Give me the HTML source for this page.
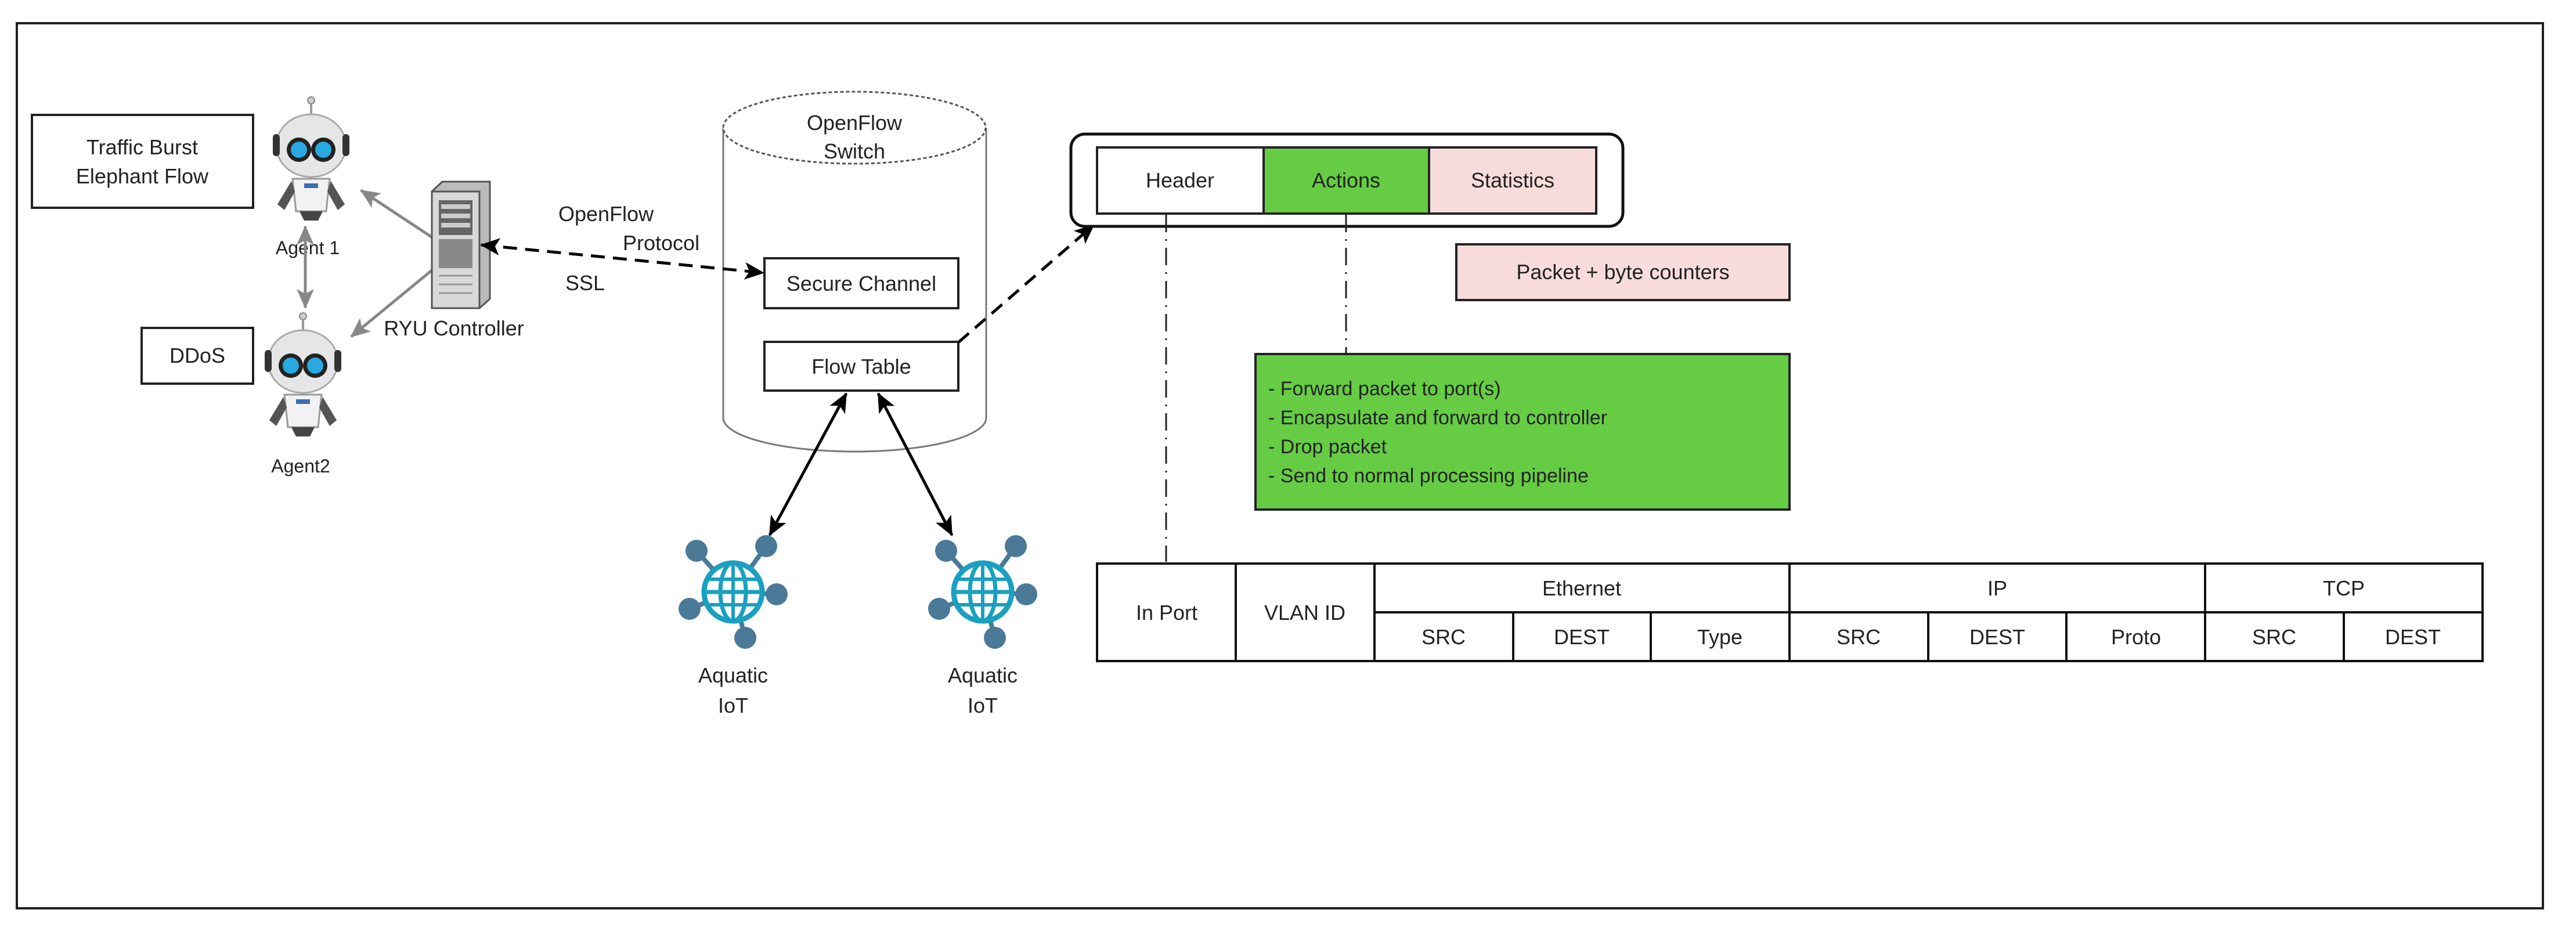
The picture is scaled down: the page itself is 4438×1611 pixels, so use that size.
<!DOCTYPE html>
<html><head><meta charset="utf-8"><style>
html,body{margin:0;padding:0;background:#fff;}
svg{display:block;}
text{font-family:"Liberation Sans",sans-serif;fill:#222;}
</style></head><body>
<svg width="4438" height="1611" viewBox="0 0 4438 1611" xmlns="http://www.w3.org/2000/svg">
<defs>
<marker id="abk" markerWidth="34" markerHeight="30" refX="32" refY="15" orient="auto-start-reverse" markerUnits="userSpaceOnUse"><path d="M0,0 L34,15 L0,30 L8,15 z" fill="#000"/></marker>
<marker id="ag" markerWidth="34" markerHeight="30" refX="32" refY="15" orient="auto-start-reverse" markerUnits="userSpaceOnUse"><path d="M0,0 L34,15 L0,30 L8,15 z" fill="#888"/></marker>
<g id="globe">
<g stroke="#4a7a98" stroke-width="8">
<line x1="0" y1="0" x2="-63" y2="-71"/><line x1="0" y1="0" x2="57" y2="-79"/><line x1="0" y1="0" x2="-75" y2="29"/><line x1="0" y1="0" x2="75" y2="4"/><line x1="0" y1="0" x2="21" y2="79"/>
</g>
<g fill="#4a7a98"><circle cx="-63" cy="-71" r="19"/><circle cx="57" cy="-79" r="19"/><circle cx="-75" cy="29" r="19"/><circle cx="75" cy="4" r="19"/><circle cx="21" cy="79" r="19"/></g>
<circle r="50" fill="#fff" stroke="#1aa0c0" stroke-width="9"/>
<ellipse rx="22" ry="50" fill="none" stroke="#1aa0c0" stroke-width="7"/>
<line x1="-50" y1="0" x2="50" y2="0" stroke="#1aa0c0" stroke-width="7"/>
<line x1="-44" y1="-22" x2="44" y2="-22" stroke="#1aa0c0" stroke-width="6"/>
<line x1="-44" y1="22" x2="44" y2="22" stroke="#1aa0c0" stroke-width="6"/>
<line x1="0" y1="-50" x2="0" y2="50" stroke="#1aa0c0" stroke-width="6"/>
</g>
<g id="robot">
<line x1="0" y1="-100" x2="0" y2="-72" stroke="#999" stroke-width="4"/><circle cy="-103" r="6" fill="#ccc" stroke="#888" stroke-width="2"/>
<ellipse cx="0" cy="-25" rx="60" ry="54" fill="#e6e6e6" stroke="#aaa" stroke-width="3"/>
<rect x="-66" y="-45" width="12" height="38" rx="6" fill="#333"/><rect x="54" y="-45" width="12" height="38" rx="6" fill="#333"/>
<circle cx="-21" cy="-18" r="21" fill="#222"/><circle cx="21" cy="-18" r="21" fill="#222"/>
<circle cx="-21" cy="-18" r="14" fill="#2aa8e0"/><circle cx="21" cy="-18" r="14" fill="#2aa8e0"/>
<path d="M-32,32 L32,32 L26,88 L-26,88 z" fill="#f2f2f2" stroke="#999" stroke-width="3"/>
<rect x="-12" y="40" width="24" height="8" fill="#3a6fb0"/>
<path d="M-34,36 L-58,76 L-46,86 L-28,54 z" fill="#555"/><path d="M34,36 L58,76 L46,86 L28,54 z" fill="#555"/>
<path d="M-20,88 L-12,104 L12,104 L20,88 z" fill="#444"/>
</g>
</defs>

<rect x="29" y="40" width="4352" height="1525" fill="none" stroke="#222" stroke-width="4"/>

<rect x="55" y="198" width="381" height="160" fill="#fff" stroke="#222" stroke-width="4"/>
<text x="245" y="266" font-size="36" text-anchor="middle">Traffic Burst</text>
<text x="245" y="316" font-size="36" text-anchor="middle">Elephant Flow</text>
<rect x="244" y="565" width="192" height="96" fill="#fff" stroke="#222" stroke-width="4"/>
<text x="340" y="625" font-size="36" text-anchor="middle">DDoS</text>

<use href="#robot" x="536" y="276"/>
<use href="#robot" x="522" y="648"/>
<text x="530" y="438" font-size="32" text-anchor="middle">Agent 1</text>
<text x="518" y="814" font-size="32" text-anchor="middle">Agent2</text>

<line x1="746" y1="410" x2="622" y2="328" stroke="#888" stroke-width="5" marker-end="url(#ag)"/>
<line x1="746" y1="464" x2="605" y2="580" stroke="#888" stroke-width="5" marker-end="url(#ag)"/>
<line x1="526" y1="390" x2="526" y2="530" stroke="#888" stroke-width="5" marker-start="url(#ag)" marker-end="url(#ag)"/>

<g>
<path d="M744,330 L762,313 L844,313 L844,515 L826,531 L744,531 z" fill="#bbb" stroke="#555" stroke-width="3"/>
<rect x="744" y="330" width="82" height="201" fill="#d8d8d8" stroke="#555" stroke-width="3"/>
<rect x="756" y="345" width="58" height="60" fill="#666"/>
<rect x="760" y="352" width="50" height="8" fill="#ccc"/><rect x="760" y="368" width="50" height="8" fill="#ccc"/><rect x="760" y="384" width="50" height="8" fill="#ccc"/>
<rect x="756" y="412" width="58" height="50" fill="#888"/>
<line x1="756" y1="475" x2="814" y2="475" stroke="#999" stroke-width="3"/><line x1="756" y1="490" x2="814" y2="490" stroke="#999" stroke-width="3"/><line x1="756" y1="505" x2="814" y2="505" stroke="#999" stroke-width="3"/>
</g>
<text x="782" y="578" font-size="36" text-anchor="middle">RYU Controller</text>

<text x="962" y="381" font-size="36">OpenFlow</text>
<text x="1073" y="431" font-size="36">Protocol</text>
<text x="974" y="500" font-size="36">SSL</text>

<path d="M1246,220 L1246,720 A226,58 0 0 0 1699,720 L1699,220" fill="#fff" stroke="#777" stroke-width="3"/>
<ellipse cx="1472" cy="220" rx="226" ry="62" fill="#fff" stroke="#555" stroke-width="3" stroke-dasharray="6,4"/>
<text x="1472" y="224" font-size="36" text-anchor="middle">OpenFlow</text>
<text x="1472" y="273" font-size="36" text-anchor="middle">Switch</text>
<rect x="1317" y="445" width="334" height="86" fill="#fff" stroke="#222" stroke-width="4"/>
<text x="1484" y="501" font-size="36" text-anchor="middle">Secure Channel</text>
<rect x="1317" y="589" width="334" height="84" fill="#fff" stroke="#222" stroke-width="4"/>
<text x="1484" y="644" font-size="36" text-anchor="middle">Flow Table</text>

<line x1="829" y1="422" x2="1315" y2="470" stroke="#000" stroke-width="5" stroke-dasharray="24,14" marker-start="url(#abk)" marker-end="url(#abk)"/>
<line x1="1651" y1="590" x2="1884" y2="388" stroke="#000" stroke-width="5" stroke-dasharray="24,14" marker-end="url(#abk)"/>

<line x1="1458" y1="678" x2="1326" y2="922" stroke="#000" stroke-width="5" marker-start="url(#abk)" marker-end="url(#abk)"/>
<line x1="1513" y1="678" x2="1640" y2="922" stroke="#000" stroke-width="5" marker-start="url(#abk)" marker-end="url(#abk)"/>

<use href="#globe" x="1263" y="1020"/>
<use href="#globe" x="1693" y="1020"/>
<text x="1263" y="1176" font-size="36" text-anchor="middle">Aquatic</text>
<text x="1263" y="1228" font-size="36" text-anchor="middle">IoT</text>
<text x="1693" y="1176" font-size="36" text-anchor="middle">Aquatic</text>
<text x="1693" y="1228" font-size="36" text-anchor="middle">IoT</text>

<rect x="1845" y="231" width="951" height="159" rx="24" fill="#fff" stroke="#111" stroke-width="5"/>
<rect x="1890" y="254" width="287" height="114" fill="#fff" stroke="#222" stroke-width="4"/>
<rect x="2177" y="254" width="285" height="114" fill="#66cc44" stroke="#222" stroke-width="4"/>
<rect x="2462" y="254" width="288" height="114" fill="#f8dcdc" stroke="#222" stroke-width="4"/>
<text x="2033" y="323" font-size="36" text-anchor="middle">Header</text>
<text x="2319" y="323" font-size="36" text-anchor="middle">Actions</text>
<text x="2606" y="323" font-size="36" text-anchor="middle">Statistics</text>

<line x1="2009" y1="370" x2="2009" y2="968" stroke="#222" stroke-width="3" stroke-dasharray="30,12,3,12"/>
<line x1="2319" y1="370" x2="2319" y2="608" stroke="#222" stroke-width="3" stroke-dasharray="30,12,3,12"/>

<rect x="2509" y="421" width="574" height="96" fill="#f8dcdc" stroke="#222" stroke-width="4"/>
<text x="2796" y="481" font-size="36" text-anchor="middle">Packet + byte counters</text>

<rect x="2163" y="610" width="920" height="268" fill="#66cc44" stroke="#222" stroke-width="4"/>
<text x="2185" y="681" font-size="34">- Forward packet to port(s)</text>
<text x="2185" y="731" font-size="34">- Encapsulate and forward to controller</text>
<text x="2185" y="781" font-size="34">- Drop packet</text>
<text x="2185" y="831" font-size="34">- Send to normal processing pipeline</text>

<g stroke="#111" stroke-width="4" fill="none">
<rect x="1890" y="971" width="2387" height="168"/>
<line x1="2368" y1="1055" x2="4277" y2="1055"/>
<line x1="2129" y1="971" x2="2129" y2="1139"/>
<line x1="2368" y1="971" x2="2368" y2="1139"/>
<line x1="3083" y1="971" x2="3083" y2="1139"/>
<line x1="3799" y1="971" x2="3799" y2="1139"/>
<line x1="2607" y1="1055" x2="2607" y2="1139"/>
<line x1="2844" y1="1055" x2="2844" y2="1139"/>
<line x1="3322" y1="1055" x2="3322" y2="1139"/>
<line x1="3560" y1="1055" x2="3560" y2="1139"/>
<line x1="4038" y1="1055" x2="4038" y2="1139"/>
</g>
<g font-size="36" text-anchor="middle">
<text x="2010" y="1068">In Port</text>
<text x="2248" y="1068">VLAN ID</text>
<text x="2725" y="1026">Ethernet</text>
<text x="3441" y="1026">IP</text>
<text x="4038" y="1026">TCP</text>
<text x="2487" y="1110">SRC</text>
<text x="2725" y="1110">DEST</text>
<text x="2963" y="1110">Type</text>
<text x="3202" y="1110">SRC</text>
<text x="3441" y="1110">DEST</text>
<text x="3680" y="1110">Proto</text>
<text x="3918" y="1110">SRC</text>
<text x="4157" y="1110">DEST</text>
</g>
</svg>
</body></html>
